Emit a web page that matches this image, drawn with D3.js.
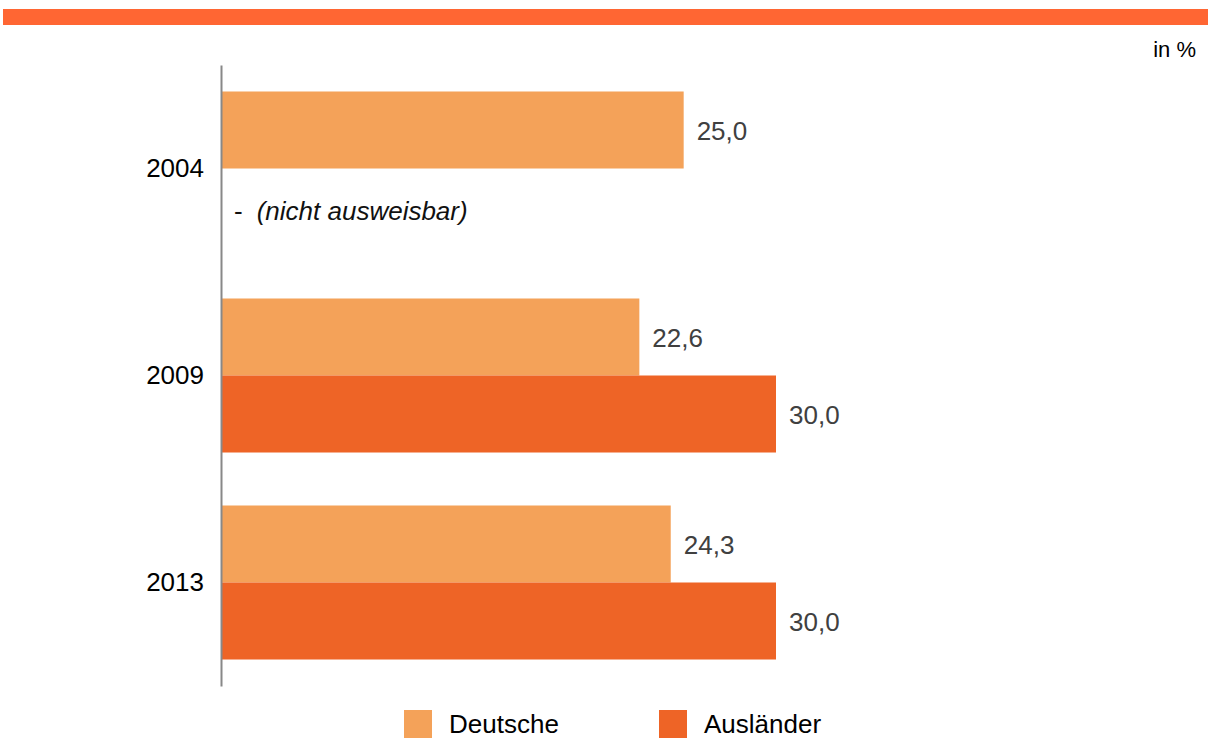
<!DOCTYPE html>
<html>
<head>
<meta charset="utf-8">
<script src="https://cdn.jsdelivr.net/npm/d3@7"></script>
<style>
  body { margin: 0; background: #fff; }
  svg { display: block; font-family: "Liberation Sans", Arial, sans-serif; }
</style>
</head>
<body>
<svg></svg>
<script>
const years = ['2004', '2009', '2013'];
const series = ['Deutsche', 'Ausländer'];
const deutsche = [25.0, 22.6, 24.3];
const auslaender = [null, 30.0, 30.0];
const colors = ['#F4A259', '#EE6426'];

const width = 1208;
const height = 740;

const svg = d3.select('svg')
  .attr('width', width)
  .attr('height', height);

// orange banner on top
svg.append('rect')
  .attr('x', 3).attr('y', 9)
  .attr('width', width - 3).attr('height', 16)
  .attr('fill', '#FF6633');

svg.append('text')
  .attr('x', 1196).attr('y', 57)
  .attr('text-anchor', 'end')
  .attr('font-size', '22px')
  .attr('fill', '#000')
  .text('in %');

const x = d3.scaleLinear()
  .domain([0, 30])
  .range([222, 776]);

const y = d3.scaleBand()
  .domain(years)
  .range([65, 686])
  .paddingInner(0.256)
  .paddingOuter(0.128);

const ySub = d3.scaleBand()
  .domain(series)
  .range([0, y.bandwidth()]);

const rows = years.map((yr, i) => ({
  year: yr,
  values: [
    { key: 'Deutsche', value: deutsche[i] },
    { key: 'Ausländer', value: auslaender[i] }
  ]
}));

const groups = svg.append('g')
  .selectAll('g')
  .data(rows)
  .enter().append('g')
    .attr('transform', d => `translate(0,${y(d.year)})`);

groups.selectAll('rect')
  .data(d => d.values.filter(v => v.value != null))
  .enter().append('rect')
    .attr('x', x(0))
    .attr('y', d => ySub(d.key))
    .attr('width', d => x(d.value) - x(0))
    .attr('height', ySub.bandwidth())
    .attr('fill', d => colors[series.indexOf(d.key)]);

groups.selectAll('text.val')
  .data(d => d.values.filter(v => v.value != null))
  .enter().append('text')
    .attr('class', 'val')
    .attr('x', d => x(d.value) + 13)
    .attr('y', d => ySub(d.key) + ySub.bandwidth() / 2 + 1)
    .attr('dy', '0.35em')
    .attr('font-size', '26px')
    .attr('fill', '#404040')
    .text(d => d3.format('.1f')(d.value).replace('.', ','));

// missing value note
groups.filter(d => d.values[1].value == null)
  .append('text')
    .attr('x', 234)
    .attr('y', ySub('Ausländer') + ySub.bandwidth() / 2 + 4)
    .attr('dy', '0.35em')
    .attr('font-size', '26px')
    .attr('fill', '#111')
    .html('-<tspan dx="14" font-style="italic">(nicht ausweisbar)</tspan>');

// y axis
const yAxis = svg.append('g')
  .attr('transform', `translate(${x(0) - 1},0)`)
  .call(d3.axisLeft(y).tickSize(0).tickPadding(17));
yAxis.select('.domain')
  .attr('stroke', '#888')
  .attr('stroke-width', 2);
yAxis.selectAll('text')
  .attr('font-size', '26px')
  .attr('font-family', '"Liberation Sans", Arial, sans-serif')
  .attr('fill', '#000');

// legend
const legendX = [404, 659];
const legend = svg.append('g')
  .selectAll('g')
  .data(series)
  .enter().append('g')
    .attr('transform', (d, i) => `translate(${legendX[i]},710)`);

legend.append('rect')
  .attr('width', 28).attr('height', 28)
  .attr('fill', (d, i) => colors[i]);

legend.append('text')
  .attr('x', 45).attr('y', 14)
  .attr('dy', '0.35em')
  .attr('font-size', '26px')
  .attr('fill', '#000')
  .text(d => d);
</script>
</body>
</html>
